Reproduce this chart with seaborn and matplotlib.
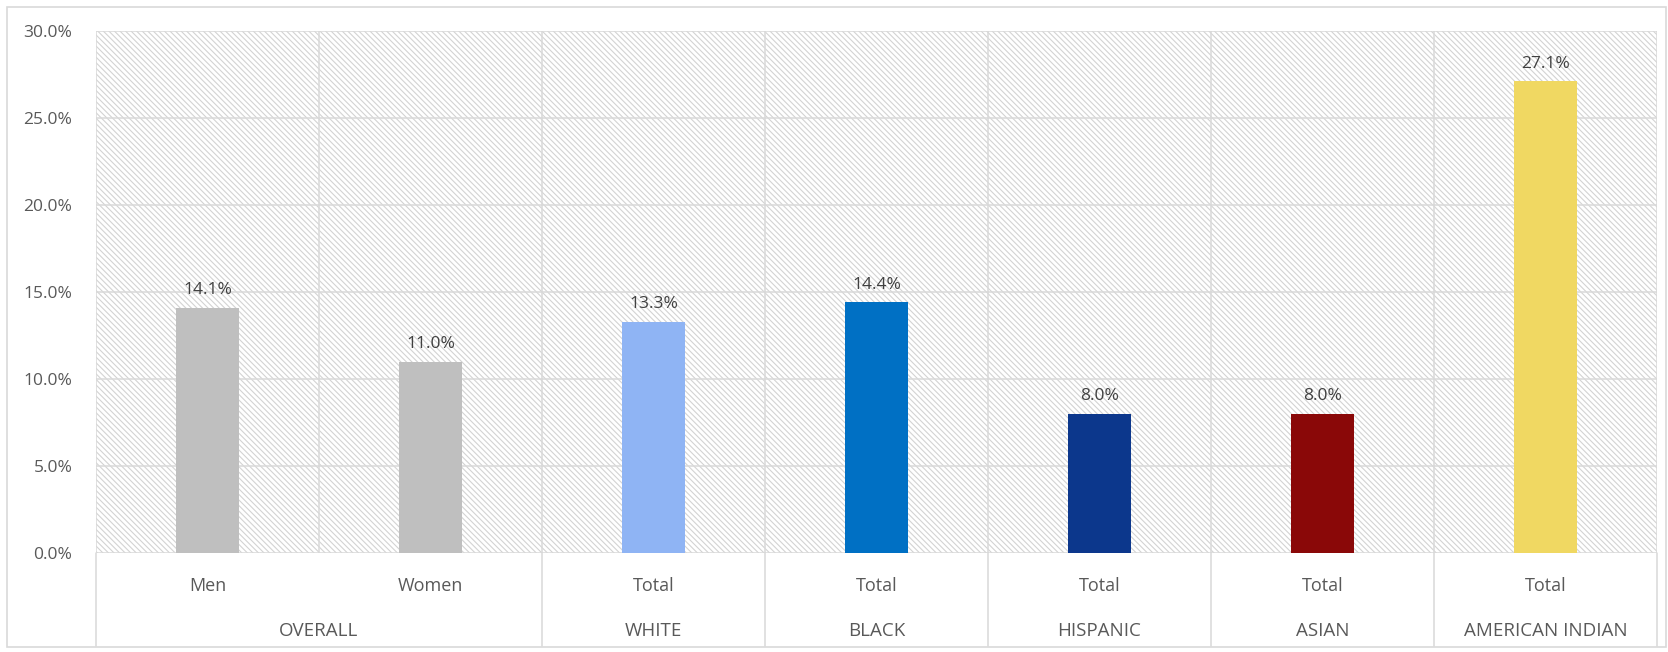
import matplotlib
matplotlib.use("Agg")
import matplotlib.pyplot as plt
from matplotlib.patches import Rectangle
from matplotlib.lines import Line2D
import matplotlib.transforms as mtransforms
import pandas as pd
import seaborn as sns

# Chart data
bar_keys = ["Men", "Women", "White Total", "Black Total", "Hispanic Total", "Asian Total", "American Indian Total"]
sub_labels = ["Men", "Women", "Total", "Total", "Total", "Total", "Total"]
values = [14.1, 11.0, 13.3, 14.4, 8.0, 8.0, 27.1]
groups = ["OVERALL", "WHITE", "BLACK", "HISPANIC", "ASIAN", "AMERICAN INDIAN"]
group_sizes = [2, 1, 1, 1, 1, 1]
bar_colors = ["#BFBFBF", "#BFBFBF", "#8FB4F4", "#0070C4", "#0C378C", "#8A0808", "#F0D862"]
y_ticks = [0, 5, 10, 15, 20, 25, 30]

sns.set_theme(style="white")
plt.rcParams["font.family"] = ["Open Sans", "DejaVu Sans"]
plt.rcParams["hatch.linewidth"] = 0.8

text_col = "#595959"
grid_col = "#D9D9D9"

fig = plt.figure(figsize=(16.68, 6.52), dpi=100)
ax = fig.add_axes([96 / 1668, 99 / 652, (1657 - 96) / 1668, (553 - 31) / 652])

df = pd.DataFrame({"key": bar_keys, "value": values})
sns.barplot(data=df, x="key", y="value", hue="key", order=bar_keys,
            hue_order=bar_keys, palette=bar_colors, width=0.28,
            saturation=1, legend=False, ax=ax, zorder=2, linewidth=0)

# hatched plot background
ax.patch.set_visible(False)
ax.add_patch(Rectangle((0, 0), 1, 1, transform=ax.transAxes, facecolor="white",
                       edgecolor="#D3D3D3", linewidth=0, hatch="\\" * 6, zorder=0))

n = len(bar_keys)
ax.set_xlim(-0.5, n - 0.5)
ax.set_ylim(0, 30)
ax.set_yticks(y_ticks)
ax.set_yticklabels([f"{v:.1f}%" for v in y_ticks], fontsize=12.5, color=text_col)
ax.tick_params(axis="y", length=0, pad=17)
ax.set_xticks([])
ax.set_xlabel("")
ax.set_ylabel("")

# gridlines
for v in y_ticks:
    ax.axhline(v, color=grid_col, lw=1.1, zorder=1)
for i in range(n + 1):
    ax.axvline(i - 0.5, color=grid_col, lw=1.1, zorder=1)
for s in ax.spines.values():
    s.set_visible(False)

# value labels
for c in ax.containers:
    ax.bar_label(c, labels=[f"{v:.1f}%" for v in c.datavalues], padding=7,
                 fontsize=12.5, color="#404040")

# two-level category axis
trans = mtransforms.blended_transform_factory(ax.transData, ax.transAxes)
for i, lab in enumerate(sub_labels):
    ax.text(i, -0.063, lab, transform=trans, ha="center", va="center",
            fontsize=13, color=text_col)
start = 0
bounds = [-0.5]
for g, size in zip(groups, group_sizes):
    center = start + (size - 1) / 2
    ax.text(center, -0.149, g, transform=trans, ha="center", va="center",
            fontsize=13.5, color=text_col)
    start += size
    bounds.append(start - 0.5)
for b in bounds:
    ax.add_line(Line2D([b, b], [0, -0.178], transform=trans, color=grid_col,
                       lw=1.1, clip_on=False))

# chart border
fig.add_artist(Rectangle((7 / 1668, 5 / 652), 1659 / 1668, 640 / 652,
                         transform=fig.transFigure, fill=False,
                         edgecolor=grid_col, lw=1.2))

fig.savefig("out.png", dpi=100)
